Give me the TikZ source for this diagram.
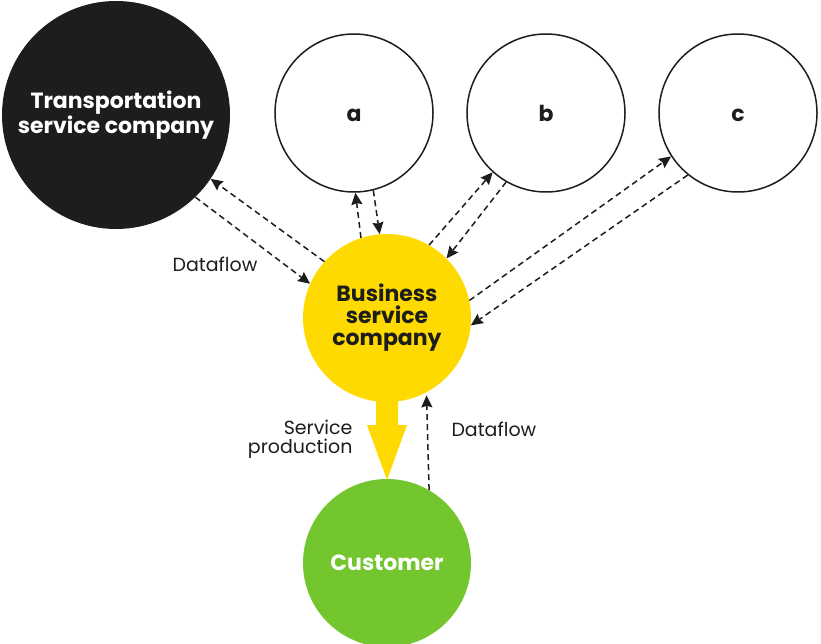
\documentclass[tikz,border=0pt]{standalone}
\usepackage{fontspec}
\setmainfont{Poppins}
\usetikzlibrary{arrows.meta}
\definecolor{ink}{HTML}{1D1D1B}
\definecolor{sun}{HTML}{FFDA00}
\definecolor{leaf}{HTML}{74C62F}
\tikzset{
  firm/.style={circle,inner sep=0pt,minimum size=#1,align=center,
    font=\fontsize{22}{19}\selectfont\bfseries},
  other/.style={firm=158pt,draw=ink,line width=1.5pt,text=ink,
    text height=17pt,text depth=0pt},
  flow/.style={draw=ink,line width=1.5pt,dash pattern=on 6pt off 4pt,
    -{Stealth[length=12pt,width=11pt,inset=1.5pt]}},
  lbl/.style={text=ink,font=\fontsize{19}{19}\selectfont,align=right}
}
\begin{document}
\begin{tikzpicture}[x=1pt,y=-1pt]
    \useasboundingbox (0,0) rectangle (821,644);
    \node [firm=228pt,fill=ink,text=white] (T) at (116,115) {Transportation\\service company};
    \node [other] (a) at (354,113) {a};
    \node [other] (b) at (546,113) {b};
    \node [other] (c) at (738,113) {c};
    \node [firm=168pt,fill=sun,text=ink,font=\fontsize{22}{22}\selectfont\bfseries] (B) at (387,318) {Business\\service\\company};
    \node [firm=168pt,fill=leaf,text=white] (C) at (387,563) {Customer};

    \draw [flow] (B.138) -- (T.-34);
    \draw [flow] (T.-46) -- (B.156);
    \draw [flow] (B.108) -- (a.-89);
    \draw [flow] (a.-76) -- (B.95);
    \draw [flow] (B.60) -- (b.-132);
    \draw [flow] (b.-120) -- (B.45);
    \draw [flow] (B.12) -- (c.-147);
    \draw [flow] (c.-129) -- (B.-5);
    \draw [flow] (C.60) -- ([yshift=-3pt]B.-62);

    \fill [sun] (376,396) -- (398,396) -- (398,425) -- (407,425) -- (387,480)
      -- (367,425) -- (376,425) -- cycle;

    \node [lbl] (d1) at (215,264) {Dataflow};
    \node [lbl,anchor=east] (sp) at (356,439) {Service\\production};
    \node [lbl,anchor=west] (d2) at (448,429) {Dataflow};
\end{tikzpicture}
\end{document}
